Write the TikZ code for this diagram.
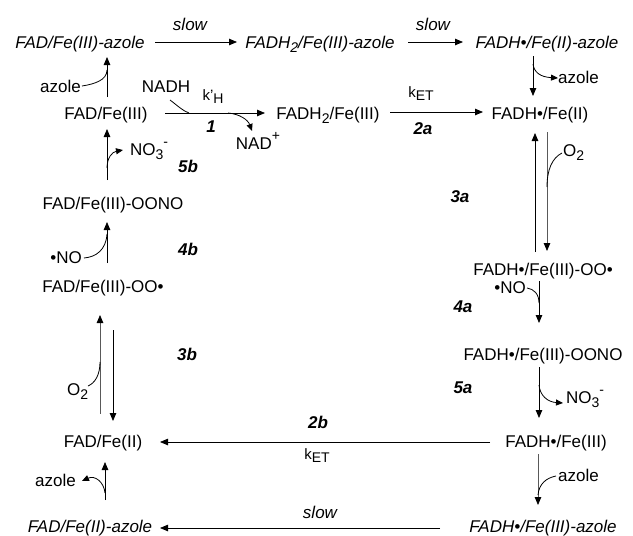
\documentclass[tikz,border=0pt]{standalone}
\usepackage{fontspec}
\setmainfont{Liberation Sans}
\usetikzlibrary{arrows.meta,calc}
% lowered and raised indices set in the main font
\newcommand\lo[1]{\raisebox{-0.45ex}{\fontsize{14}{14}\selectfont #1}}
\newcommand\hi[1]{\raisebox{0.9ex}{\fontsize{14}{14}\selectfont #1}}
\begin{document}
\begin{tikzpicture}[x=1pt,y=-1pt,
  sp/.style={font=\fontsize{17}{20}\selectfont, inner sep=0pt, anchor=base},
  spi/.style={sp, font=\fontsize{17}{20}\selectfont\itshape},
  num/.style={sp, font=\fontsize{17}{20}\selectfont\bfseries\itshape},
  rate/.style={sp, font=\fontsize{15}{17}\selectfont},
  arr/.style={line width=0.8pt, -{Triangle[length=8pt,width=6.5pt,color=black]}},
  dots/.style={draw=black!65, dash pattern=on 0.5pt off 0.5pt},
  side/.style={line width=0.8pt},
  sidearr/.style={line width=0.8pt, -{Triangle[length=7pt,width=6pt]}}]
\useasboundingbox (0,0) rectangle (633,536);

% ---- species ----
\node[spi] (tA) at (80,48)  {FAD/Fe(III)-azole};
\node[spi] (tB) at (320,48) {FADH\lo{2}/Fe(III)-azole};
\node[spi] (tC) at (547,48) {FADH•/Fe(II)-azole};
\node[sp]  (m1) at (106,119) {FAD/Fe(III)};
\node[sp]  (m2) at (328,119) {FADH\lo{2}/Fe(III)};
\node[sp]  (m3) at (540,119) {FADH•/Fe(II)};
\node[sp]  (l1) at (113,209) {FAD/Fe(III)-OONO};
\node[sp]  (l2) at (103,292) {FAD/Fe(III)-OO•};
\node[sp]  (l3) at (103,447) {FAD/Fe(II)};
\node[spi] (l4) at (90,532)  {FAD/Fe(II)-azole};
\node[sp]  (r1) at (543,275) {FADH•/Fe(III)-OO•};
\node[sp]  (r2) at (543,360) {FADH•/Fe(III)-OONO};
\node[sp]  (r3) at (556,447) {FADH•/Fe(III)};
\node[spi] (r4) at (543,532) {FADH•/Fe(III)-azole};

% ---- top row ----
\draw[arr] ($(tA.base)+(75,-6)$) -- ($(tB.base)+(-83,-6)$);
\node[spi] (slowA) at (190,30) {slow};
\draw[arr] ($(tB.base)+(88,-6)$) -- ($(tC.base)+(-84,-6)$);
\node[spi] (slowB) at (433,30) {slow};

% loss of azole from FADH./Fe(II)-azole
\draw[arr] ($(tC.base)+(-14,8)$) -- ($(m3.base)+(-7,-23)$);
\node[sp, anchor=base west] (azR1) at (558,83) {azole};
\draw[sidearr] (533,64) .. controls (534,72) and (540,77) .. (azR1.west |- 0,78);

% azole binding to FAD/Fe(III)
\draw[arr] ($(m1.base)+(1,-22)$) -- ($(tA.base)+(27,9)$);
\node[sp, anchor=base east] (azL1) at (81,92) {azole};
\draw[side] ($(azL1.base east)+(1,-6)$) .. controls (95,84) and (107,80) .. (107,70);

% step 1: hydride transfer
\draw[arr] ($(m1.base)+(59,-6)$) -- ($(m2.base)+(-63,-6)$);
\node[sp] (nadh) at (166,92) {NADH};
\draw[side] ($(nadh.base)+(4,8)$) .. controls (178,106) and (183,111) .. (189,113);
\node[rate] (kH) at (213,100) {k'\lo{H}};
\node[num] (s1) at (211,132) {1};
\node[sp] (nadp) at (258,149) {NAD\hi{+}};
\draw[sidearr] (228,113) .. controls (240,114) and (248,120) .. ($(nadp.base)+(-6,-18)$);

% step 2a: electron transfer
\draw[arr] ($(m2.base)+(62,-7)$) -- ($(m3.base)+(-57,-7)$);
\node[rate] (kETa) at (421,97) {k\lo{ET}};
\node[num] (s2a) at (423,134) {2a};

% step 3a: O2 binding (reversible)
\draw[arr] ($(r1.base)+(-8,-23)$) -- ($(m3.base)+(-5,14)$);
\draw[arr, dots] ($(m3.base)+(7,13)$) -- ($(r1.base)+(4,-24)$);
\node[sp, anchor=base west] (o2R) at (563,156) {O\lo{2}};
\draw[side] (547,187) .. controls (547,170) and (552,158) .. ($(o2R.base west)+(-1,-3)$);
\node[num] (s3a) at (460,202) {3a};

% step 4a: NO attack
\draw[arr] ($(r1.base)+(-4,6)$) -- ($(r2.base)+(-4,-37)$);
\node[sp, anchor=base east] (noR) at (526,293) {•NO};
\draw[side] ($(noR.base east)+(1,-5)$) .. controls (534,289) and (539,294) .. (539,303);
\node[num] (s4a) at (463,312) {4a};

% step 5a: nitrate release
\draw[arr] ($(r2.base)+(-4,7)$) -- ($(r3.base)+(-17,-29)$);
\node[sp, anchor=base west] (no3R) at (566,403) {NO\lo{3}\hi{-}};
\draw[sidearr] (539,385) .. controls (540,396) and (548,402) .. ($(no3R.base west)+(-3,0)$);
\node[num] (s5a) at (463,393) {5a};

% azole binding to FADH./Fe(III)
\draw[arr, dots] ($(r3.base)+(-18,7)$) -- ($(r4.base)+(-5,-27)$);
\node[sp, anchor=base west] (azR2) at (558,481) {azole};
\draw[side] ($(azR2.base west)+(-2,-5)$) .. controls (546,478) and (539,484) .. (538,495);

% step 2b and the slow azole route
\draw[arr] ($(r3.base)+(-66,-5)$) -- ($(l3.base)+(57,-5)$);
\node[num] (s2b) at (318,428) {2b};
\node[rate] (kETb) at (317,459) {k\lo{ET}};
\draw[arr] ($(r4.base)+(-103,-4)$) -- ($(l4.base)+(70,-4)$);
\node[spi] (slowC) at (320,518) {slow};

% loss of azole from FAD/Fe(II)-azole
\draw[arr] ($(l4.base)+(15,-32)$) -- ($(l3.base)+(2,15)$);
\node[sp, anchor=base east] (azL2) at (76,486) {azole};
\draw[sidearr] (105,493) .. controls (104,482) and (95,475) .. ($(azL2.base east)+(6,-5)$);

% step 3b: O2 binding (reversible)
\draw[arr, dots] ($(l3.base)+(-3,-34)$) -- ($(l2.base)+(-3,23)$);
\draw[arr] ($(l2.base)+(10,38)$) -- ($(l3.base)+(10,-26)$);
\node[sp, anchor=base west] (o2L) at (67,395) {O\lo{2}};
\draw[side] (100,362) .. controls (100,375) and (95,383) .. ($(o2L.base west)+(21,-9)$);
\node[num] (s3b) at (187,360) {3b};

% step 4b: NO attack
\draw[arr] ($(l2.base)+(4,-29)$) -- ($(l1.base)+(-6,13)$);
\node[sp, anchor=base east] (noL) at (82,263) {•NO};
\draw[side] ($(noL.base east)+(2,-5)$) .. controls (96,257) and (106,250) .. (107,234);
\node[num] (s4b) at (188,255) {4b};

% step 5b: nitrate release
\draw[arr] ($(l1.base)+(-6,-29)$) -- ($(m1.base)+(1,10)$);
\node[sp, anchor=base west] (no3L) at (130,155) {NO\lo{3}\hi{-}};
\draw[sidearr] (107,168) .. controls (107,158) and (112,152) .. ($(no3L.base west)+(-7,-5)$);
\node[num] (s5b) at (188,172) {5b};
\end{tikzpicture}
\end{document}
